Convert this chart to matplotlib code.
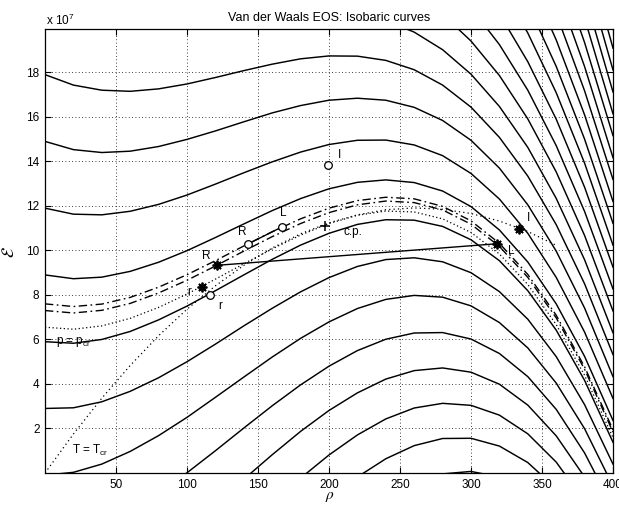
import matplotlib
matplotlib.use("Agg")
import matplotlib.pyplot as plt

plt.rcParams['font.family'] = ['Liberation Sans', 'DejaVu Sans']
plt.rcParams['mathtext.fontset'] = 'custom'
plt.rcParams['mathtext.rm'] = 'Liberation Sans'
plt.rcParams['mathtext.it'] = 'Liberation Sans:italic'
plt.rcParams['mathtext.bf'] = 'Liberation Sans:bold'

# ---------------- data (energy density in units of 1e7) ----------------
rho = [0, 20, 40, 60, 80, 100, 120, 140, 160, 180, 200,
       220, 240, 260, 280, 300, 320, 340, 360, 380, 400]

# isobars readable over the full density range
iso_17_9 = [17.90, 17.43, 17.20, 17.15, 17.26, 17.48, 17.77, 18.08, 18.37, 18.61, 18.74,
            18.73, 18.54, 18.12, 17.43, 16.44, 15.08, 13.34, 11.16, 8.50, 5.32]
iso_14_9 = [14.90, 14.53, 14.40, 14.46, 14.67, 14.99, 15.37, 15.78, 16.18, 16.51, 16.75,
            16.84, 16.75, 16.43, 15.84, 14.95, 13.70, 12.05, 9.97, 7.41, 4.33]
iso_11_9 = [11.90, 11.63, 11.60, 11.76, 12.07, 12.49, 12.98, 13.49, 13.98, 14.42, 14.76,
            14.95, 14.96, 14.74, 14.26, 13.46, 12.31, 10.77, 8.79, 6.33, 3.35]
iso_8_9 = [8.90, 8.73, 8.80, 9.06, 9.47, 9.99, 10.58, 11.19, 11.79, 12.33, 12.77,
           13.06, 13.17, 13.05, 12.67, 11.97, 10.92, 9.48, 7.60, 5.24, 2.36]
iso_5_9 = [5.90, 5.83, 6.00, 6.36, 6.88, 7.50, 8.19, 8.90, 9.60, 10.24, 10.77,
           11.17, 11.38, 11.36, 11.08, 10.48, 9.54, 8.19, 6.42, 4.16, 1.38]
iso_2_9 = [2.90, 2.93, 3.20, 3.67, 4.28, 5.00, 5.79, 6.61, 7.40, 8.14, 8.78,
           9.28, 9.59, 9.67, 9.49, 9.00, 8.15, 6.91, 5.23, 3.07, 0.40]
iso_m0_1 = [-0.10, 0.03, 0.40, 0.97, 1.68, 2.50, 3.40, 4.31, 5.21, 6.05, 6.79,
            7.39, 7.80, 7.98, 7.90, 7.51, 6.76, 5.62, 4.04, 1.99, -0.59]
iso_m3_1 = [-3.10, -2.86, -2.39, -1.73, -0.92, 0.01, 1.00, 2.02, 3.02, 3.96, 4.80,
            5.50, 6.01, 6.29, 6.31, 6.02, 5.37, 4.33, 2.86, 0.90, -1.57]
iso_m6_1 = [-6.10, -5.76, -5.19, -4.43, -3.51, -2.49, -1.40, -0.28, 0.82, 1.87, 2.81,
            3.60, 4.22, 4.60, 4.72, 4.53, 3.99, 3.05, 1.67, -0.18, -2.56]
iso_m9_1 = [-9.10, -8.66, -7.99, -7.13, -6.11, -4.98, -3.79, -2.57, -1.37, -0.23, 0.81,
            1.71, 2.43, 2.92, 3.13, 3.04, 2.60, 1.76, 0.49, -1.27, -3.54]
iso_m12_1 = [-12.10, -11.56, -10.79, -9.82, -8.71, -7.48, -6.19, -4.87, -3.57, -2.32, -1.18,
             -0.18, 0.64, 1.23, 1.55, 1.56, 1.21, 0.47, -0.70, -2.35, -4.52]
iso_m15_1 = [-15.10, -14.46, -13.59, -12.52, -11.30, -9.98, -8.58, -7.16, -5.76, -4.41, -3.17,
             -2.07, -1.15, -0.46, -0.04, 0.07, -0.18, -0.81, -1.89, -3.44, -5.51]

# near-critical isobars (dash-dot pair and dotted critical isobar)
iso_dd_upper = [7.60, 7.48, 7.59, 7.89, 8.35, 8.91, 9.54, 10.20, 10.84, 11.42, 11.90,
                12.24, 12.39, 12.32, 11.98, 11.33, 10.32, 8.92, 7.09, 4.77, 1.94]
iso_dd_lower = [7.30, 7.19, 7.31, 7.62, 8.09, 8.66, 9.30, 9.97, 10.62, 11.21, 11.70,
                12.05, 12.22, 12.15, 11.82, 11.18, 10.18, 8.79, 6.97, 4.66, 1.84]
iso_crit = [6.55, 6.46, 6.61, 6.95, 7.44, 8.04, 8.71, 9.40, 10.07, 10.69, 11.21,
            11.58, 11.77, 11.73, 11.42, 10.81, 9.84, 8.47, 6.67, 4.39, 1.59]

# critical isotherm T = Tcr (dotted)
rho_tcr = [0, 20, 40, 60, 80, 100, 120, 140, 160, 180, 200,
           220, 240, 260, 280, 300, 320, 340, 360]
eps_tcr = [0.00, 1.75, 3.36, 4.83, 6.17, 7.36, 8.41, 9.33, 10.11, 10.75, 11.24,
           11.60, 11.83, 11.91, 11.85, 11.66, 11.32, 10.85, 10.23]

# steep high-pressure isobars (right part of the chart)
rho_steep = [240, 260, 280, 300, 320, 340, 360, 380, 400]
steep_isobars = [
    [20.33, 19.81, 19.02, 17.92, 16.47, 14.63, 12.34, 9.58, 6.30],
    [22.12, 21.50, 20.61, 19.41, 17.86, 15.91, 13.53, 10.67, 7.28],
    [23.91, 23.19, 22.20, 20.90, 19.25, 17.20, 14.71, 11.75, 8.27],
    [25.70, 24.88, 23.79, 22.39, 20.63, 18.48, 15.90, 12.84, 9.25],
    [27.49, 26.57, 25.38, 23.88, 22.02, 19.77, 17.09, 13.92, 10.24],
    [29.28, 28.26, 26.97, 25.36, 23.41, 21.06, 18.27, 15.00, 11.22],
    [31.07, 29.95, 28.55, 26.85, 24.79, 22.34, 19.46, 16.09, 12.20],
    [32.86, 31.64, 30.14, 28.34, 26.18, 23.63, 20.64, 17.17, 13.19],
    [34.65, 33.33, 31.73, 29.83, 27.57, 24.92, 21.83, 18.26, 14.17],
    [36.45, 35.02, 33.32, 31.32, 28.96, 26.20, 23.01, 19.34, 15.16],
    [38.24, 36.71, 34.91, 32.80, 30.34, 27.49, 24.20, 20.43, 16.14],
    [40.03, 38.40, 36.50, 34.29, 31.73, 28.78, 25.38, 21.51, 17.12],
    [41.82, 40.09, 38.09, 35.78, 33.12, 30.06, 26.57, 22.60, 18.11],
    [43.61, 41.78, 39.68, 37.27, 34.51, 31.35, 27.76, 23.68, 19.09],
]

# marked points
circ_rho = [143.2, 166.7, 116.2, 199.0]
circ_eps = [10.30, 11.05, 7.98, 13.85]
star_rho = [120.9, 318.0, 110.3, 334.0]
star_eps = [9.33, 10.30, 8.35, 10.97]
cp_rho, cp_eps = 197.2, 11.12
seg_RL_circ_rho = [143.2, 166.7]
seg_RL_circ_eps = [10.30, 11.05]
seg_RL_star_rho = [120.9, 318.0]
seg_RL_star_eps = [9.33, 10.30]

labels = ["R", "L", "R", "L", "r", "r", "I", "I", "c.p."]
label_rho = [139.0, 167.8, 113.8, 328.5, 101.5, 123.5, 207.5, 340.5, 210.0]
label_eps = [10.85, 11.70, 9.75, 9.98, 8.15, 7.50, 14.30, 11.45, 10.82]

x_ticks = [50, 100, 150, 200, 250, 300, 350, 400]
y_ticks = [2, 4, 6, 8, 10, 12, 14, 16, 18]

# ---------------- figure ----------------
W, H = 619, 508
fig = plt.figure(figsize=(W / 100, H / 100), dpi=100)
ax = fig.add_axes([45 / W, 1 - 473 / H, 568 / W, 444 / H])

lw = 1.05
solid_isobars = [iso_17_9, iso_14_9, iso_11_9, iso_8_9, iso_5_9, iso_2_9, iso_m0_1,
                 iso_m3_1, iso_m6_1, iso_m9_1, iso_m12_1, iso_m15_1]
for e in solid_isobars:
    ax.plot(rho, e, color='k', lw=lw)
for e in steep_isobars:
    ax.plot(rho_steep, e, color='k', lw=lw)

ax.plot(rho, iso_dd_upper, color='k', lw=1.0, dashes=(6, 2.5, 1.2, 2.5))
ax.plot(rho, iso_dd_lower, color='k', lw=1.0, dashes=(6, 2.5, 1.2, 2.5))
ax.plot(rho, iso_crit, color='k', lw=0.9, dashes=(1, 2))
ax.plot(rho_tcr, eps_tcr, color='k', lw=0.9, dashes=(1, 2.5))

ax.plot(seg_RL_circ_rho, seg_RL_circ_eps, color='k', lw=1.0)
ax.plot(seg_RL_star_rho, seg_RL_star_eps, color='k', lw=1.0)
ax.plot(circ_rho, circ_eps, linestyle='none', marker='o', mfc='white', mec='k',
        ms=5.5, mew=0.9, zorder=5)
ax.plot(star_rho, star_eps, linestyle='none', marker=(8, 2, 0), color='k',
        ms=7, mew=1.3, zorder=5)
ax.plot([cp_rho], [cp_eps], linestyle='none', marker='+', color='k', ms=7, mew=1.1, zorder=5)

for t, xr, ye in zip(labels, label_rho, label_eps):
    ax.text(xr, ye, t, fontsize=8.5, ha='left' if t == 'c.p.' else 'center', va='center')

ax.text(8, 5.87, 'p = p$_{\\mathrm{cr}}$', fontsize=8.5, ha='left', va='center')
ax.text(19, 1.0, 'T = T$_{\\mathrm{cr}}$', fontsize=8.5, ha='left', va='center')

ax.set_xlim(0, 400)
ax.set_ylim(0, 19.95)
ax.set_xticks(x_ticks)
ax.set_yticks(y_ticks)
ax.set_xticklabels([str(v) for v in x_ticks])
ax.set_yticklabels([str(v) for v in y_ticks])
ax.tick_params(direction='in', top=True, right=True, length=4, width=0.8,
               labelsize=8.5, pad=4)
ax.grid(True, color='k', linestyle=(0, (1, 3)), linewidth=0.6)
for s in ax.spines.values():
    s.set_linewidth(0.9)

ax.set_title('Van der Waals EOS: Isobaric curves', fontsize=9, pad=6)
fig.text(46 / W, 1 - 25 / H, 'x 10$^{7}$', fontsize=8.5, ha='left', va='baseline')
fig.text(330 / W, 1 - 497 / H, r'$\rho$', fontsize=11, ha='center', va='center',
         math_fontfamily='stix')
fig.text(9 / W, 1 - 252 / H, r'$\mathcal{E}$', fontsize=12, ha='center', va='center',
         rotation=90, math_fontfamily='stix')

fig.savefig('out.png', dpi=100)
